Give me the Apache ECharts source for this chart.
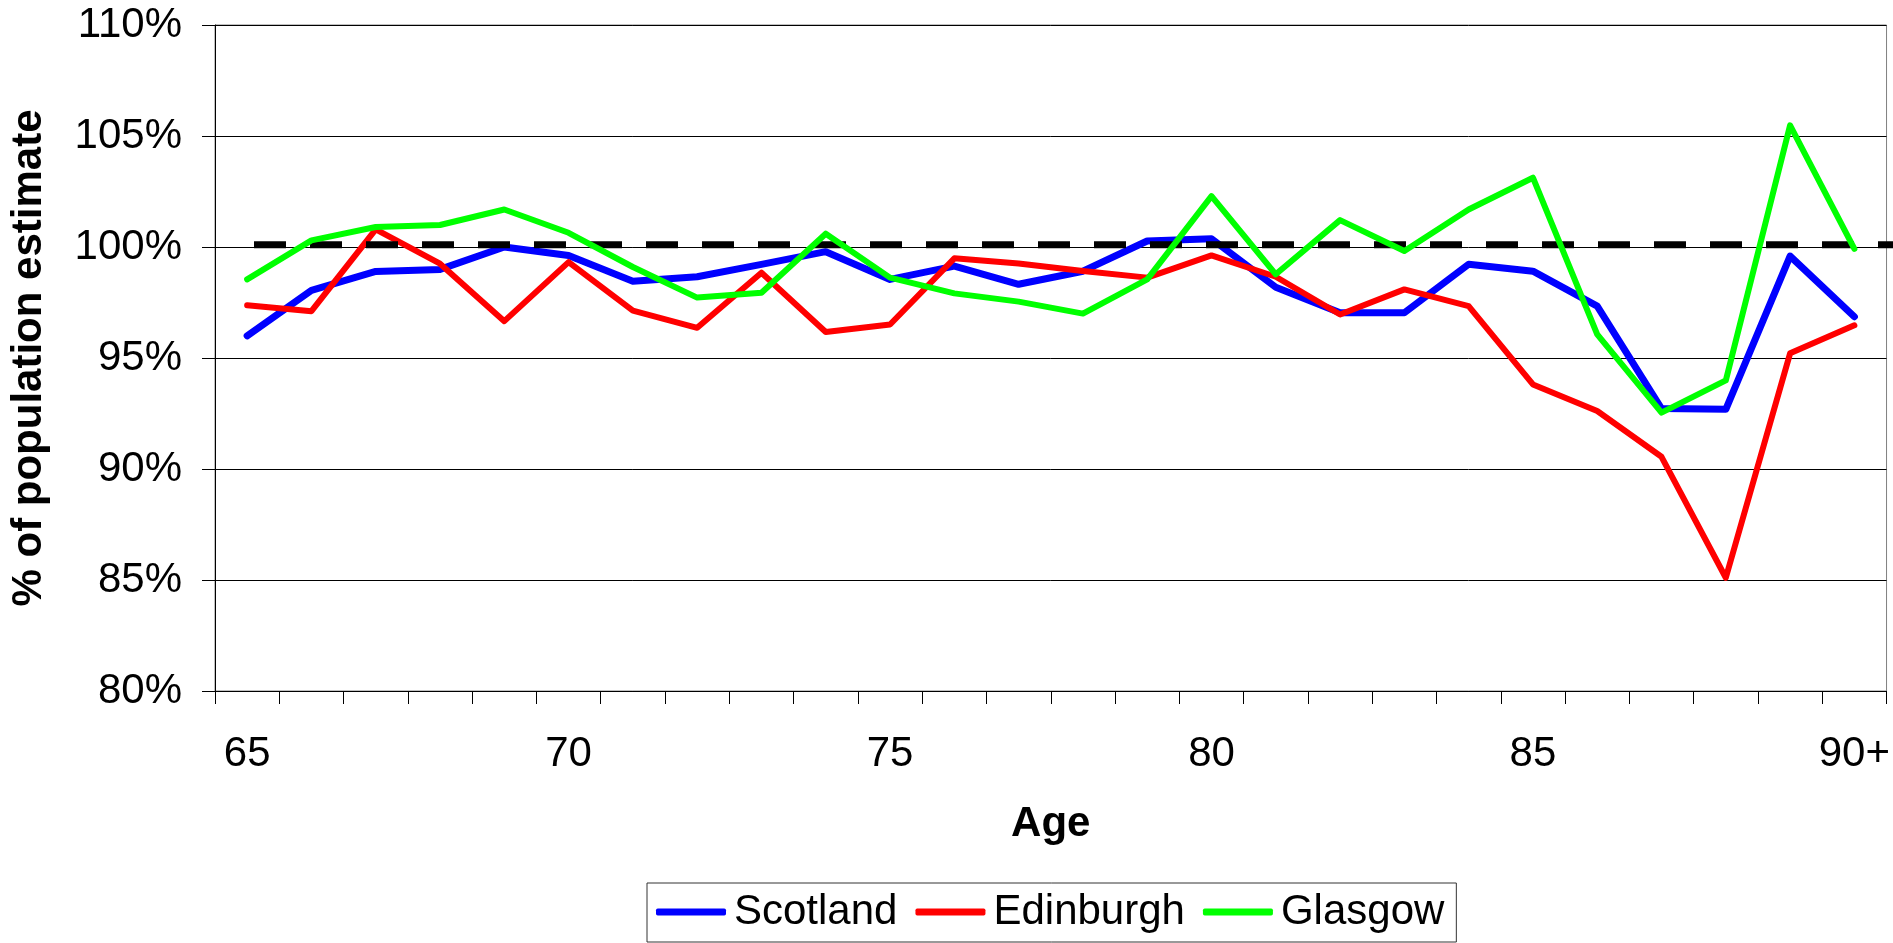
<!DOCTYPE html>
<html>
<head>
<meta charset="utf-8">
<script src="https://cdn.jsdelivr.net/npm/echarts@6/dist/echarts.min.js"></script>
<style>
html,body{margin:0;padding:0;background:#fff;}
#chart{width:1893px;height:943px;}
</style>
</head>
<body>
<div id="chart"></div>
<script>
var ages = ['65','66','67','68','69','70','71','72','73','74','75','76','77','78','79','80','81','82','83','84','85','86','87','88','89','90+'];
var scotland = [96.0, 98.05, 98.9, 98.99, 100.0, 99.62, 98.46, 98.66, 99.22, 99.79, 98.54, 99.14, 98.32, 98.91, 100.27, 100.37, 98.19, 97.04, 97.04, 99.22, 98.91, 97.34, 92.72, 92.69, 99.59, 96.86];
var edinburgh = [97.38, 97.11, 100.79, 99.25, 96.66, 99.32, 97.13, 96.36, 98.84, 96.17, 96.51, 99.49, 99.26, 98.92, 98.62, 99.62, 98.66, 96.96, 98.09, 97.34, 93.81, 92.61, 90.55, 85.1, 95.21, 96.47];
var glasgow = [98.54, 100.3, 100.9, 100.99, 101.69, 100.64, 99.1, 97.72, 97.94, 100.6, 98.62, 97.91, 97.54, 97.0, 98.54, 102.29, 98.77, 101.21, 99.82, 101.69, 103.12, 96.06, 92.54, 93.99, 105.48, 99.92];
var refCats = ['start', 'end'];
var refLine = [100.1, 100.1];
var yTicks = {min: 80, max: 110, interval: 5};

var FONT = "'Liberation Sans', Arial, sans-serif";
var chart = echarts.init(document.getElementById('chart'), null, {renderer: 'canvas'});
chart.setOption({
  animation: false,
  backgroundColor: '#ffffff',
  grid: [
    {left: 215, right: 6, top: 25, bottom: 252, show: true, borderColor: '#808080', borderWidth: 1, backgroundColor: 'transparent'},
    {left: 254, right: 0, top: 25, bottom: 252, show: false}
  ],
  legend: {
    data: ['Scotland', 'Edinburgh', 'Glasgow'],
    left: 647, top: 883,
    orient: 'horizontal',
    icon: 'roundRect',
    itemWidth: 70, itemHeight: 7, itemGap: 18,
    padding: [8, 12, 9, 9],
    borderColor: '#333', borderWidth: 1,
    textStyle: {fontFamily: FONT, fontSize: 42, color: '#000', padding: [0, 0, 0, 3]}
  },
  xAxis: [
    {
      type: 'category', gridIndex: 0, data: ages, boundaryGap: true,
      name: 'Age', nameLocation: 'middle', nameGap: 112,
      nameTextStyle: {fontFamily: FONT, fontSize: 42, fontWeight: 'bold', color: '#000'},
      axisLine: {show: true, lineStyle: {color: '#000', width: 1}},
      axisTick: {show: true, interval: 0, length: 13, alignWithLabel: false, lineStyle: {color: '#000', width: 1}},
      axisLabel: {interval: 4, margin: 42, fontFamily: FONT, fontSize: 42, color: '#000'},
      splitLine: {show: false}
    },
    {
      type: 'category', gridIndex: 1, data: refCats, boundaryGap: false, show: false
    }
  ],
  yAxis: [
    {
      type: 'value', gridIndex: 0, min: yTicks.min, max: yTicks.max, interval: yTicks.interval,
      name: '% of population estimate', nameLocation: 'middle', nameGap: 165, nameRotate: 90,
      nameTextStyle: {fontFamily: FONT, fontSize: 42, fontWeight: 'bold', color: '#000'},
      axisLine: {show: true, lineStyle: {color: '#000', width: 1}},
      axisTick: {show: true, length: 13, lineStyle: {color: '#000', width: 1}},
      axisLabel: {margin: 33, fontFamily: FONT, fontSize: 42, color: '#000', formatter: '{value}%'},
      splitLine: {show: true, lineStyle: {color: '#000', width: 1}}
    },
    {
      type: 'value', gridIndex: 1, min: yTicks.min, max: yTicks.max, show: false, splitLine: {show: false}
    }
  ],
  series: [
    {name: 'Scotland', type: 'line', data: scotland, xAxisIndex: 0, yAxisIndex: 0, symbol: 'none',
     lineStyle: {color: '#0000ff', width: 7, cap: 'round', join: 'round'}, itemStyle: {color: '#0000ff'}},
    {name: 'Edinburgh', type: 'line', data: edinburgh, xAxisIndex: 0, yAxisIndex: 0, symbol: 'none',
     lineStyle: {color: '#ff0000', width: 6, cap: 'round', join: 'round'}, itemStyle: {color: '#ff0000'}},
    {name: '100%', type: 'line', data: refLine, xAxisIndex: 1, yAxisIndex: 1, symbol: 'none', silent: true,
     lineStyle: {color: '#000', width: 7, type: [32, 24], cap: 'butt'}},
    {name: 'Glasgow', type: 'line', data: glasgow, xAxisIndex: 0, yAxisIndex: 0, symbol: 'none',
     lineStyle: {color: '#00ff00', width: 6, cap: 'round', join: 'round'}, itemStyle: {color: '#00ff00'}}
  ]
});
</script>
</body>
</html>
